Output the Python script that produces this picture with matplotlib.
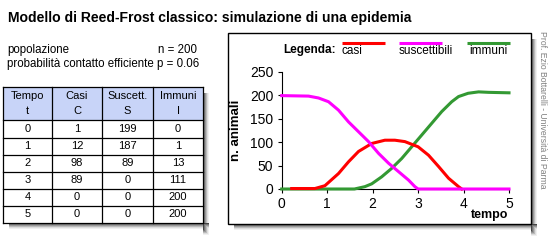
import matplotlib
matplotlib.use("Agg")
import matplotlib.pyplot as plt
from matplotlib.patches import Rectangle

plt.rcParams['font.family'] = ['Liberation Sans', 'DejaVu Sans']

# table values
tempo = [0, 1, 2, 3, 4, 5]
casi_tab = [1, 12, 98, 89, 0, 0]
susc_tab = [199, 187, 89, 0, 0, 0]
imm_tab = [0, 1, 13, 111, 200, 200]
headers = [("Tempo", "t"), ("Casi", "C"), ("Suscett.", "S"), ("Immuni", "I")]

# curves
t_casi = [0.22, 0.5, 0.73, 0.95, 1.25, 1.47, 1.69, 1.98, 2.27, 2.49, 2.71,
          3.0, 3.23, 3.45, 3.67, 3.89, 3.96]
casi = [1, 1, 1, 7, 33, 58, 80, 97, 104, 104, 101, 90, 72, 48, 23, 5, 0]
t_susc = [0, 0.59, 0.81, 1.03, 1.25, 1.47, 1.69, 1.91, 2.13, 2.35, 2.57,
          2.79, 2.93, 3.0, 5.0]
susc = [199, 198, 194, 186, 168, 143, 122, 101, 76, 55, 37, 19, 5, 0, 0]
t_imm = [0, 1.6, 1.83, 1.98, 2.2, 2.42, 2.64, 2.86, 3.08, 3.3, 3.52, 3.74,
         3.89, 4.1, 4.33, 4.55, 5.0]
imm = [0, 0, 5, 11, 26, 44, 65, 90, 115, 140, 165, 186, 197, 204, 207, 206, 205]

RED, MAG, GRN = '#ff0000', '#ff00ff', '#339933'
W, H = 549, 241

fig = plt.figure(figsize=(W / 100, H / 100), dpi=100)
fig.patch.set_facecolor('white')

# overlay in pixel coordinates
ov = fig.add_axes([0, 0, 1, 1])
ov.set_xlim(0, W)
ov.set_ylim(H, 0)
ov.axis('off')


def shadow(x0, y0, x1, y1):
    greys = ['#444444', '#777777', '#999999', '#bbbbbb', '#dddddd', '#f0f0f0']
    for i, g in enumerate(greys):
        d = i + 1
        ov.add_patch(Rectangle((x0 + 6, y1), x1 - x0, d, color=g, lw=0, zorder=0.5 - i * 0.01))
        ov.add_patch(Rectangle((x1, y0 + 6), d, y1 - y0 + d, color=g, lw=0, zorder=0.5 - i * 0.01))


ov.text(8, 18, "Modello di Reed-Frost classico: simulazione di una epidemia",
        fontsize=10.1, fontweight='bold', va='center', ha='left')
ov.text(7, 50, "popolazione", fontsize=8.3, va='center')
ov.text(197, 50, "n = 200", fontsize=8.3, va='center', ha='right')
ov.text(7, 64, "probabilità contatto efficiente p = 0.06", fontsize=8.3, va='center')

# table
tx0, tx1 = 3, 203
cols = [3, 52, 102, 153, 203]
rows = [87, 120, 137.5, 154.5, 171.5, 188.5, 205.5, 223]
shadow(tx0, rows[0], tx1, rows[-1])
ov.add_patch(Rectangle((tx0, rows[0]), tx1 - tx0, rows[1] - rows[0],
                       facecolor='#c8d4f8', lw=0, zorder=1))
ov.add_patch(Rectangle((tx0, rows[1]), tx1 - tx0, rows[-1] - rows[1],
                       facecolor='white', lw=0, zorder=1))
for x in cols:
    ov.plot([x, x], [rows[0], rows[-1]], color='black', lw=0.9, zorder=2)
for y in rows:
    ov.plot([tx0, tx1], [y, y], color='black', lw=0.9, zorder=2)
for j, (a, b) in enumerate(headers):
    cx = (cols[j] + cols[j + 1]) / 2
    ov.text(cx, 96, a, fontsize=8, ha='center', va='center', zorder=3)
    ov.text(cx, 111, b, fontsize=8, ha='center', va='center', zorder=3)
for i in range(len(tempo)):
    cy = (rows[i + 1] + rows[i + 2]) / 2
    for j, v in enumerate([tempo[i], casi_tab[i], susc_tab[i], imm_tab[i]]):
        cx = (cols[j] + cols[j + 1]) / 2
        ov.text(cx, cy, str(v), fontsize=8, ha='center', va='center', zorder=3)

# chart panel
px0, py0, px1, py1 = 228, 33, 531, 224
shadow(px0, py0, px1, py1)
ov.add_patch(Rectangle((px0, py0), px1 - px0, py1 - py0, facecolor='white',
                       edgecolor='black', lw=1, zorder=1))

ov.text(283, 50, "Legenda:", fontsize=8.5, fontweight='bold', va='center', zorder=3)
for x0, x1, tx, c, lab in [(342, 385, 342, RED, "casi"),
                           (399, 442, 399, MAG, "suscettibili"),
                           (467, 510, 469, GRN, "immuni")]:
    ov.plot([x0, x1], [42.5, 42.5], color=c, lw=2.2, solid_capstyle='butt', zorder=3)
    ov.text(tx, 50.5, lab, fontsize=8.5, va='center', zorder=3)

ov.text(543, 31, "Prof. Ezio Bottarelli - Università di Parma", rotation=-90,
        fontsize=6.2, color='#808080', ha='center', va='top')

# data axes
ax = fig.add_axes([281.7 / W, (H - 189) / H, (509 - 281.7) / W, (189 - 71.7) / H])
ax.patch.set_alpha(0)
ax.plot(t_imm, imm, color=GRN, lw=2.2, zorder=3, clip_on=False)
ax.plot(t_casi, casi, color=RED, lw=2.2, zorder=3, clip_on=False)
ax.plot(t_susc, susc, color=MAG, lw=2.2, zorder=3, clip_on=False)
ax.set_xlim(0, 5)
ax.set_ylim(0, 250)
ax.set_xticks(range(0, 6))
ax.set_yticks(range(0, 251, 50))
for s in ['top', 'right']:
    ax.spines[s].set_visible(False)
for s in ['left', 'bottom']:
    ax.spines[s].set_linewidth(0.8)
ax.tick_params(length=3, width=0.8, labelsize=10, pad=3)
ax.set_ylabel("n. animali", fontsize=9.5, fontweight='bold', labelpad=6)
ov.text(490, 215, "tempo", fontsize=9, fontweight='bold', ha='center', va='center', zorder=3)

fig.savefig("out.png", dpi=100)
